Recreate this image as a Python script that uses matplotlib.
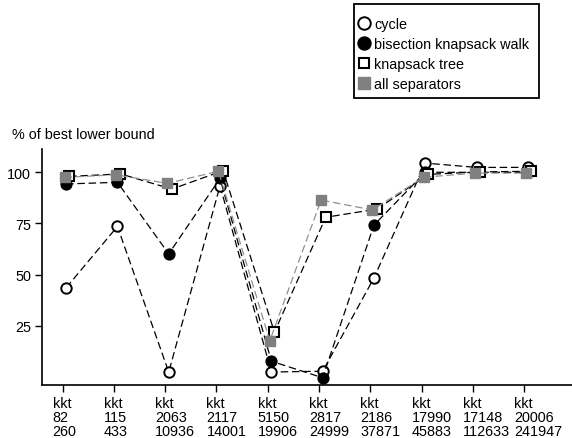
import numpy as np
import matplotlib
matplotlib.use("Agg")
from matplotlib import pyplot as plt
from matplotlib.patches import Rectangle
from matplotlib.transforms import ScaledTranslation

plt.rcParams['font.family'] = ['Liberation Sans', 'DejaVu Sans']

# instances (name, vertices, edges)
instances = ["kkt\n82\n260", "kkt\n115\n433", "kkt\n2063\n10936", "kkt\n2117\n14001",
             "kkt\n5150\n19906", "kkt\n2817\n24999", "kkt\n2186\n37871", "kkt\n17990\n45883",
             "kkt\n17148\n112633", "kkt\n20006\n241947"]

# % of best lower bound per method
cycle = [43.5, 73.5, 2.3, 93.4, 2.3, 2.7, 48.3, 104.5, 102.4, 102.4]
bisection = [94.3, 95.1, 60.1, 97.0, 7.6, -0.5, 74.2, 100.0, 100.0, 100.0]
knap_tree = [98.0, 99.2, 91.8, 100.8, 21.8, 78.0, 82.0, 99.0, 100.2, 100.5]
all_sep = [97.5, 98.8, 94.6, 100.5, 17.6, 86.4, 81.6, 97.6, 99.6, 99.6]

x = np.arange(1, len(instances) + 1)

fig = plt.figure(figsize=(5.72, 4.39), dpi=100)
ax = fig.add_axes([42/572, 1 - 385.7/439, 1 - 42/572, (385.7 - 150)/439])

dash = (0, (6, 3))
ax.plot(x + 0.07, cycle, linestyle=dash, color='black', lw=0.9,
        marker='o', ms=7.5, mfc='white', mec='black', mew=1.4, label='cycle')
ax.plot(x + 0.07, bisection, linestyle=dash, color='black', lw=0.9,
        marker='o', ms=7.8, mfc='black', mec='black', label='bisection knapsack walk')
ax.plot(x + 0.13, knap_tree, linestyle=dash, color='black', lw=0.9,
        marker='s', ms=6.5, mfc='white', mec='black', mew=1.5, label='knapsack tree')
ax.plot(x + 0.04, all_sep, linestyle=dash, color='#909090', lw=0.9,
        marker='s', ms=7.2, mfc='#808080', mec='#808080', label='all separators')

ax.set_xlim(0.6, 10.93)
ax.set_ylim(-3.9, 111.4)
ax.set_yticks([25, 50, 75, 100])
ax.set_xticks(x)
ax.tick_params(axis='both', direction='out', length=5, width=1, labelsize=10.4, pad=3)
ax.set_xticklabels(instances, ha='left', fontsize=10.4, linespacing=1.0)
# left-align each label block, starting a bit left of its tick
off = ScaledTranslation(-10/100, 0, fig.dpi_scale_trans)
for lab in ax.get_xticklabels():
    lab.set_transform(lab.get_transform() + off)
for s in ['top', 'right']:
    ax.spines[s].set_visible(False)
for s in ['left', 'bottom']:
    ax.spines[s].set_linewidth(1.2)

fig.text(12/572, 1 - 135/439, "% of best lower bound", fontsize=10.4, ha='left', va='center')

# legend box (tight on the left, roomy top/bottom)
fig.add_artist(Rectangle((354/572, 1 - 99/439), 185/572, 94/439, transform=fig.transFigure,
                         fill=False, edgecolor='black', lw=1.3))
h, l = ax.get_legend_handles_labels()
leg = fig.legend(h, l, loc='upper left', bbox_to_anchor=(357/572, 1 - 18/439),
                 bbox_transform=fig.transFigure, borderaxespad=0, borderpad=0, fontsize=10.4,
                 frameon=False, handlelength=0.9, handletextpad=0.3,
                 labelspacing=0.42, markerscale=1.2)
for lh in leg.legend_handles:
    lh.set_linestyle('None')

fig.savefig("out.png", dpi=100)
